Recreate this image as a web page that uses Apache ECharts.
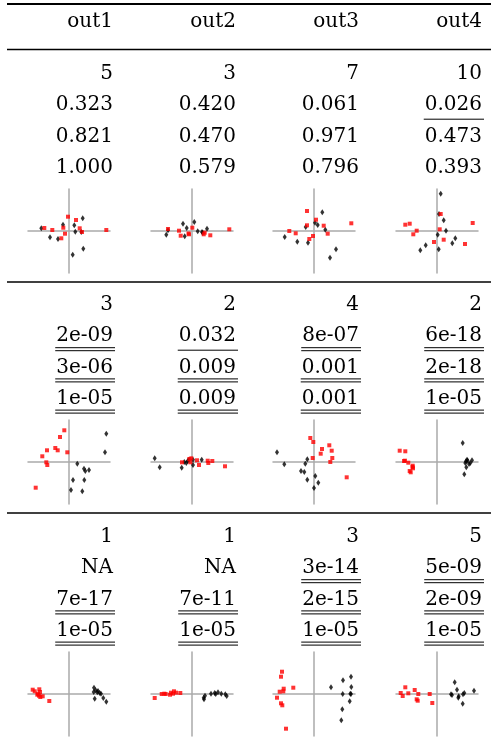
<!DOCTYPE html>
<html>
<head>
<meta charset="utf-8">
<script src="https://cdn.jsdelivr.net/npm/echarts@6/dist/echarts.min.js"></script>
<style>
  html, body { margin: 0; padding: 0; background: #fff; }
  #chart { width: 491px; height: 742px; }
</style>
</head>
<body>
<div id="chart"></div>
<script>
// column headers
const headers = ['out1', 'out2', 'out3', 'out4'];

// per block: count row and three p-value rows
const counts = [['5', '3', '7', '10'], ['3', '2', '4', '2'], ['1', '1', '3', '5']];
const pFirst = [['0.323', '0.420', '0.061', '0.026'], ['2e-09', '0.032', '8e-07', '6e-18'], ['NA', 'NA', '3e-14', '5e-09']];
const pSecond = [['0.821', '0.470', '0.971', '0.473'], ['3e-06', '0.009', '0.001', '2e-18'], ['7e-17', '7e-11', '2e-15', '2e-09']];
const pThird = [['1.000', '0.579', '0.796', '0.393'], ['1e-05', '0.009', '0.001', '1e-05'], ['1e-05', '1e-05', '1e-05', '1e-05']];

// scatter points, one list per panel (red = squares, black = diamonds)
const redRow1 = [
  [[-24.7, 3], [-16.7, 1], [-1, 14.3], [7, 11], [-5.7, 3.3], [10.7, 2.7], [-4, -2.7], [-7.7, -7.3], [13, -1], [37.3, 1]],
  [[-24, 2], [-13, 0.3], [-11.3, -4.7], [-3, -3.3], [0.3, 3.3], [11.7, -3.3], [12.7, -1.7], [18.3, -4.3], [37.3, 1.7], [-3.5, -2.5]],
  [[-7, 20], [2, 11.3], [-7, 5.7], [9.7, 5.3], [-24.7, 0], [-18.3, -2.3], [13.7, -2.7], [-1, -5], [-4.7, -8], [37.3, 7.7]],
  [[-31.7, 6.3], [-27.3, 7.3], [-20.3, 0.3], [-23.7, -3.3], [3.7, 17], [2.7, 1.7], [-3, -11], [6.7, -8.7], [28, -13], [35.7, 8]]
];
const blackRow1 = [
  [[-27.7, 2.7], [-6, 6.3], [13.7, 12.7], [5.3, 5.7], [6.3, -0.7], [12.3, -1], [-19, -6.3], [-11, -8], [14.3, -17.7], [3.7, -23.7]],
  [[-25.7, -3.7], [-24, 0.7], [-9, 7.3], [-5.3, 3], [-7.3, -5.3], [2.3, 9], [5.7, -0.3], [10, -1], [10.7, -1.7], [15, 2.3]],
  [[8.3, 18.7], [1, 8.3], [3.7, 6], [-8.3, 4], [11.3, 1.3], [-29.3, -6], [-16.7, -10.7], [-6, -11.7], [22, -18.3], [16, -26.7]],
  [[3.7, 37.3], [2, 17], [6.7, 10.7], [9, 0.3], [0.7, -3.7], [18.3, -7.3], [15.3, -12.3], [-11.3, -14.3], [-16.7, -19.3], [1.7, -18.3]]
];
const redRow2 = [
  [[-4.7, 31.7], [-9, 25], [-13.7, 14], [-11.3, 11.7], [-22, 11.7], [-1.7, 9.7], [-26.7, 5.7], [-22.7, -0.3], [-21.7, -3], [-33.3, -25.7]],
  [[-10, -0.3], [-2.7, 3], [-0.7, 3.7], [-1.7, -0.3], [5, 1.7], [7, -3], [15.7, 1.3], [16.3, -1], [20.3, 1], [33, -4.3]],
  [[-3.7, 24], [-0.7, 20], [15.3, 16.7], [8, 13], [17.7, 11.3], [6.7, 8.3], [18.3, 4], [-1.3, 4], [16.3, 0], [32.7, -15.3]],
  [[-37.3, 11.3], [-31.7, 10.7], [-33, 1], [-32, 1.3], [-28.7, -0.7], [-24.3, -3.7], [-24, -6.3], [-27.3, -9], [-26.3, -10.3], [-24.5, -5]]
];
const blackRow2 = [
  [[37.3, 28.3], [36, 9.7], [8.3, -1.7], [15, -6.7], [16.3, -9], [20, -8], [4, -18], [15.3, -18], [2, -28], [13.3, -29.3]],
  [[-37.3, 3.7], [-32.3, -5.3], [-10.3, -5.7], [-7.7, 0], [-5.7, -1], [-4.3, 1], [-3, 2.3], [1, -3], [1, 2.3], [9.7, 2.3]],
  [[-37, 9.7], [-29.7, -2.3], [-6.7, 2.7], [-8.7, -1.7], [-13, -9], [-9.7, -10], [1.3, -14], [-6.7, -17.7], [4.3, -20.7], [0, -26]],
  [[25.7, 19], [30, 2.3], [29, 0.7], [30.5, 1.5], [35, 1.7], [33.3, -1], [32, -2], [29.3, -5.3], [27.3, -12.3], [28.3, -1]]
];
const redRow3 = [
  [[-36.3, 4.3], [-34.3, 2.7], [-29.7, 4.7], [-31, 0.3], [-30, -1.7], [-28.7, -3], [-26.3, -2.3], [-31.7, -0.7], [-19.7, -7], [-29, 2]],
  [[-37.3, -4], [-30.3, 0], [-27.7, 0.3], [-22, -0.7], [-21, 1.3], [-18, 2.7], [-16, 1.3], [-11.7, 1], [-26.3, 0], [-19, 0.3]],
  [[-32, 22.3], [-33, 17.3], [-20.7, 6.3], [-30.3, 5.3], [-30.7, 2.7], [-34.3, 2.3], [-37, -3.7], [-33, -9.3], [-31.7, -11.3], [-28, -34.7]],
  [[-31.7, 6.7], [-22.3, 4], [-36.3, 1], [-28.7, 0.7], [-34.3, -2], [-18.7, 0], [-20.3, -5.3], [-19.3, -6.7], [-7.3, 0], [-4.7, -9]]
];
const blackRow3 = [
  [[25, 6.3], [26.7, 3.7], [29, 3], [30.7, 1], [32, 0.3], [28.3, 1.7], [25.7, -4.7], [34.3, -4], [37.3, -7.7], [24.7, 2]],
  [[12, -5.3], [13, -1.7], [19, 0.3], [22.7, 1], [26, 1.7], [29.3, 0.3], [33.3, -0.3], [34.7, -2], [23.7, 0], [11.7, -3.7]],
  [[37, 17.3], [29, 13.7], [37.3, 7], [17, 6.7], [28.7, 0], [36.3, 0.3], [35.7, -7.3], [28.3, -15.3], [27.3, -26.3], [37, 0]],
  [[17.7, 11.7], [20, 4.3], [14, -0.3], [15, -1], [21.7, -2.3], [21.3, -3.7], [26, -0.3], [27.3, 1], [37, 3.3], [25.7, -9.7]]
];

const redRows = [redRow1, redRow2, redRow3];
const blackRows = [blackRow1, blackRow2, blackRow3];

const FONT = '20px "DejaVu Serif"';
const colRight = [113, 236, 359, 482];
const colCenter = [69, 192, 314, 437];
const blockTextY = [74, 305, 537];   // first text line of each block
const plotCenterY = [231, 462, 694];
const rulesY = [282, 513];
const LINE = 31.2;

const measure = document.createElement('canvas').getContext('2d');
measure.font = FONT;

function underlineCount(s) {
  const v = parseFloat(s);
  if (isNaN(v)) return 0;
  if (v < 0.01) return 2;
  if (v < 0.05) return 1;
  return 0;
}

const graphics = [];
function addText(str, x, y) {
  graphics.push({
    type: 'text',
    style: { text: str, x: x, y: y, font: FONT, fill: '#000',
      align: 'right', verticalAlign: 'middle', textAlign: 'right', textVerticalAlign: 'middle' }
  });
}
function addLine(x1, y1, x2, y2, w) {
  graphics.push({
    type: 'line',
    shape: { x1: x1, y1: y1, x2: x2, y2: y2 },
    style: { stroke: '#000', lineWidth: w }
  });
}

// table rules
addLine(7, 4, 491, 4, 2);
addLine(7, 49.5, 491, 49.5, 1.5);
rulesY.forEach(function (y) { addLine(7, y, 491, y, 1.5); });

headers.forEach(function (h, c) { addText(h, colRight[c], 22); });

const pRows = [pFirst, pSecond, pThird];
for (let b = 0; b < 3; b++) {
  for (let c = 0; c < 4; c++) {
    const y0 = blockTextY[b];
    addText(counts[b][c], colRight[c], y0);
    pRows.forEach(function (rows, k) {
      const s = rows[b][c];
      const y = y0 + LINE * (k + 1);
      addText(s, colRight[c], y);
      const n = underlineCount(s);
      if (n > 0) {
        const w = measure.measureText(s).width;
        const x1 = colRight[c] - w - 1, x2 = colRight[c] + 2;
        if (n === 1) {
          addLine(x1, y + 14, x2, y + 14, 1);
        } else {
          addLine(x1, y + 11.5, x2, y + 11.5, 1);
          addLine(x1, y + 14.5, x2, y + 14.5, 1);
        }
      }
    });
  }
}

// scatter panels
const grids = [], xAxes = [], yAxes = [], series = [];
const axisStyle = { color: '#aaaaaa', width: 1.5 };
let gi = 0;
for (let b = 0; b < 3; b++) {
  for (let c = 0; c < 4; c++) {
    grids.push({ left: colCenter[c] - 41, top: plotCenterY[b] - 42, width: 82, height: 84 });
    xAxes.push({ gridIndex: gi, type: 'value', min: -41, max: 41,
      axisLine: { onZero: true, lineStyle: axisStyle },
      axisTick: { show: false }, axisLabel: { show: false }, splitLine: { show: false } });
    yAxes.push({ gridIndex: gi, type: 'value', min: -42, max: 42,
      axisLine: { onZero: true, lineStyle: axisStyle },
      axisTick: { show: false }, axisLabel: { show: false }, splitLine: { show: false } });
    series.push({ type: 'scatter', xAxisIndex: gi, yAxisIndex: gi, data: blackRows[b][c],
      symbol: 'diamond', symbolSize: [4, 6], itemStyle: { color: '#000' }, silent: true });
    series.push({ type: 'scatter', xAxisIndex: gi, yAxisIndex: gi, data: redRows[b][c],
      symbol: 'rect', symbolSize: 4, itemStyle: { color: '#ff0000' }, silent: true });
    gi++;
  }
}

const chart = echarts.init(document.getElementById('chart'), null, { renderer: 'canvas' });
chart.setOption({
  animation: false,
  grid: grids,
  xAxis: xAxes,
  yAxis: yAxes,
  series: series,
  graphic: { elements: graphics }
});
</script>
</body>
</html>
